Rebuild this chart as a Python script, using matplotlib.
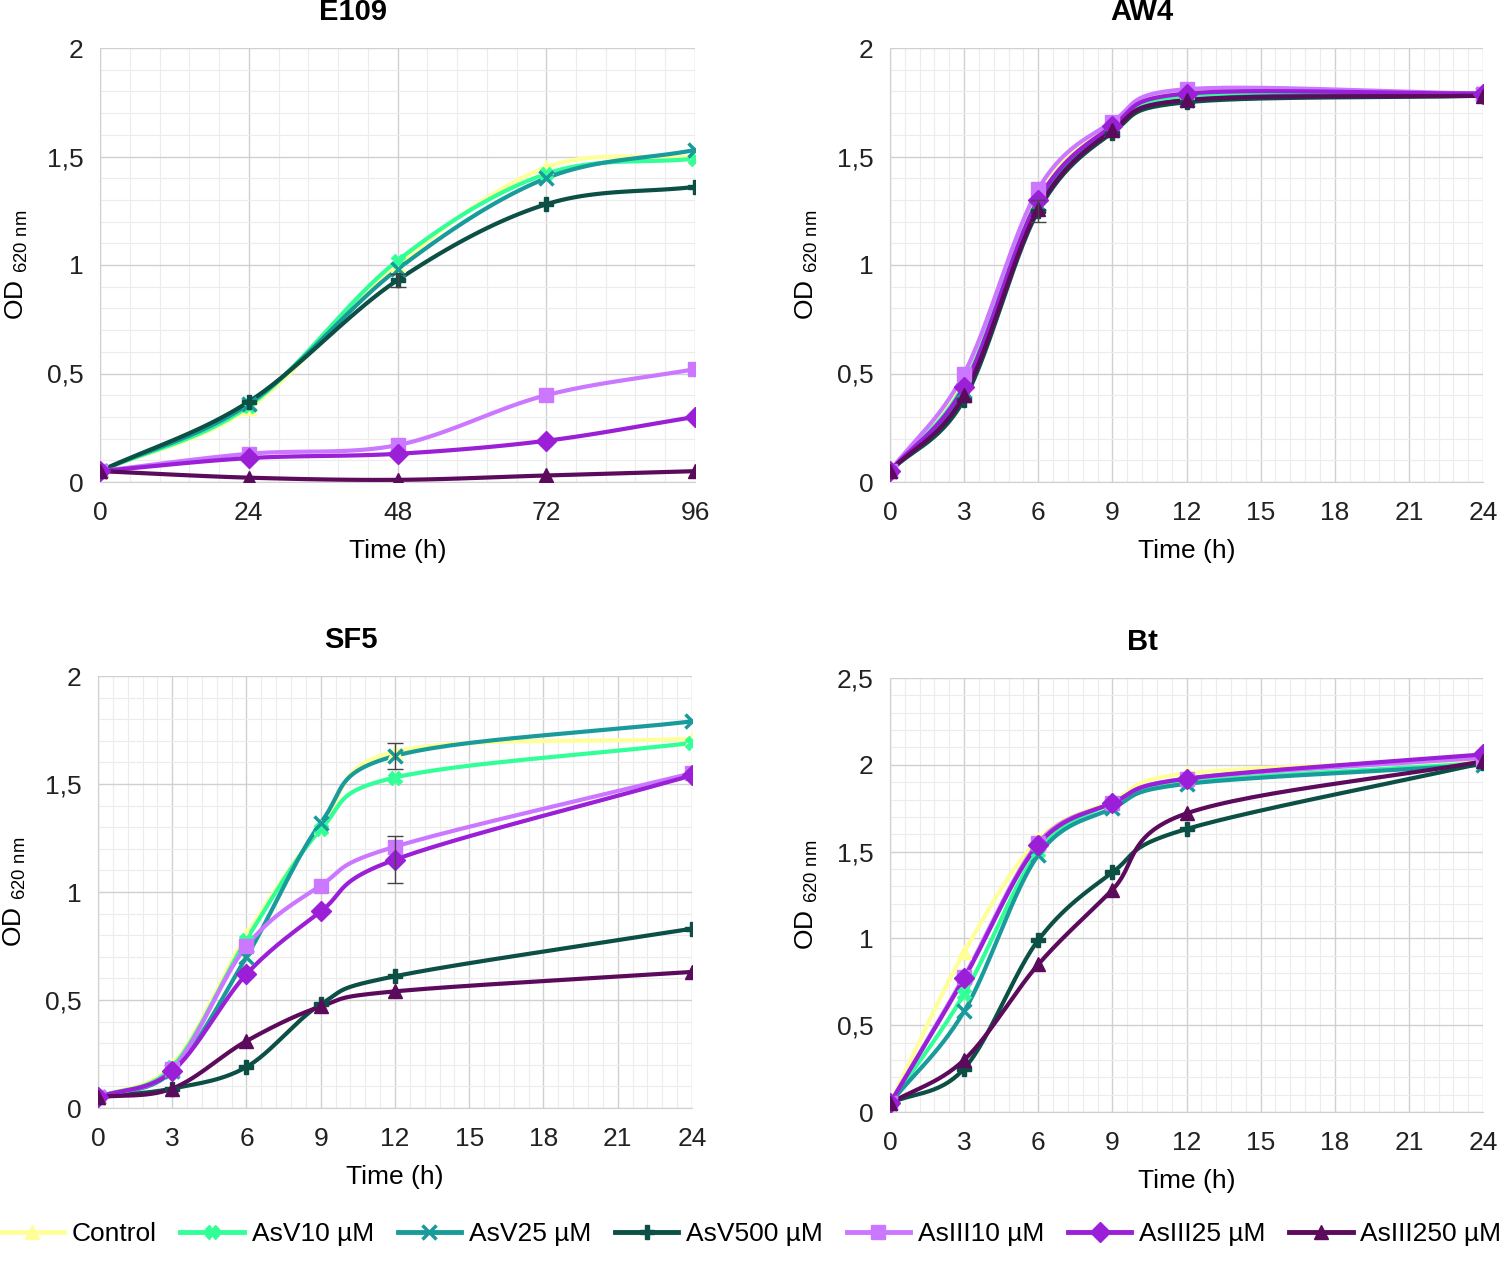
import matplotlib
matplotlib.rcParams["font.family"] = ["Liberation Sans", "DejaVu Sans"]
import matplotlib.pyplot as plt
import numpy as np
from matplotlib.ticker import AutoMinorLocator, FuncFormatter

series = ["Control", "AsV10 µM", "AsV25 µM", "AsV500 µM", "AsIII10 µM", "AsIII25 µM", "AsIII250 µM"]
colors = ["#ffff99", "#33ff99", "#199b9b", "#0b4f45", "#cc77ff", "#9a1fd6", "#5c0a5c"]
markers = ["^", "X", "x", "P", "s", "D", "^"]

x_e109 = [0, 24, 48, 72, 96]
x_24 = [0, 3, 6, 9, 12, 24]

e109 = [
    [0.05, 0.34, 1.00, 1.45, 1.50],
    [0.05, 0.35, 1.02, 1.42, 1.49],
    [0.05, 0.36, 0.98, 1.40, 1.53],
    [0.05, 0.37, 0.93, 1.28, 1.36],
    [0.05, 0.13, 0.17, 0.40, 0.52],
    [0.05, 0.11, 0.13, 0.19, 0.30],
    [0.05, 0.02, 0.01, 0.03, 0.05],
]
aw4 = [
    [0.05, 0.48, 1.33, 1.65, 1.80, 1.79],
    [0.05, 0.45, 1.30, 1.63, 1.78, 1.79],
    [0.05, 0.42, 1.28, 1.62, 1.76, 1.79],
    [0.05, 0.38, 1.25, 1.61, 1.75, 1.78],
    [0.05, 0.50, 1.35, 1.66, 1.81, 1.79],
    [0.05, 0.44, 1.30, 1.64, 1.79, 1.79],
    [0.05, 0.40, 1.26, 1.62, 1.76, 1.78],
]
sf5 = [
    [0.05, 0.20, 0.80, 1.30, 1.65, 1.71],
    [0.05, 0.19, 0.78, 1.29, 1.53, 1.69],
    [0.05, 0.17, 0.70, 1.32, 1.63, 1.79],
    [0.05, 0.09, 0.19, 0.48, 0.61, 0.83],
    [0.05, 0.18, 0.75, 1.03, 1.21, 1.55],
    [0.05, 0.17, 0.62, 0.91, 1.15, 1.54],
    [0.05, 0.09, 0.31, 0.47, 0.54, 0.63],
]
bt = [
    [0.05, 0.92, 1.57, 1.79, 1.95, 2.03],
    [0.05, 0.68, 1.50, 1.78, 1.90, 2.01],
    [0.05, 0.58, 1.48, 1.75, 1.89, 2.00],
    [0.05, 0.25, 0.99, 1.38, 1.63, 2.01],
    [0.05, 0.78, 1.55, 1.78, 1.92, 2.04],
    [0.05, 0.77, 1.54, 1.78, 1.92, 2.06],
    [0.05, 0.30, 0.85, 1.28, 1.72, 2.02],
]
# error bars (series index, x, y, err)
err_e109 = [(3, 48, 0.93, 0.03)]
err_aw4 = [(3, 6, 1.25, 0.05)]
err_sf5 = [(2, 12, 1.63, 0.06), (5, 12, 1.15, 0.11)]
err_bt = []


def smooth(x, y, n=30):
    # Catmull-Rom style rendering, like Excel smoothed lines
    x = np.asarray(x, float); y = np.asarray(y, float)
    px = np.concatenate([[2 * x[0] - x[1]], x, [2 * x[-1] - x[-2]]])
    py = np.concatenate([[2 * y[0] - y[1]], y, [2 * y[-1] - y[-2]]])
    xs, ys = [], []
    t = np.linspace(0, 1, n)
    for i in range(1, len(px) - 2):
        p0, p1, p2, p3 = [np.array([px[j], py[j]]) for j in range(i - 1, i + 3)]
        tt = t[:, None]
        pts = 0.5 * ((2 * p1) + (-p0 + p2) * tt + (2 * p0 - 5 * p1 + 4 * p2 - p3) * tt ** 2
                     + (-p0 + 3 * p1 - 3 * p2 + p3) * tt ** 3)
        xs.extend(pts[:, 0]); ys.extend(pts[:, 1])
    return xs, ys


fig = plt.figure(figsize=(15.02, 12.66), dpi=100)
W, H = 1502, 1266
boxes = [(100, 48, 695, 482), (890, 48, 1483, 482), (98, 676, 692, 1108), (890, 678, 1483, 1112)]
panels = [
    ("E109", x_e109, e109, err_e109, 96, 24, 2.0),
    ("AW4", x_24, aw4, err_aw4, 24, 3, 2.0),
    ("SF5", x_24, sf5, err_sf5, 24, 3, 2.0),
    ("Bt", x_24, bt, err_bt, 24, 3, 2.5),
]
fmt = FuncFormatter(lambda v, p: ("%g" % v).replace(".", ","))
handles = []
for (l, t, r, b), (title, xs, data, errs, xmax, xstep, ymax) in zip(boxes, panels):
    ax = fig.add_axes([l / W, 1 - b / H, (r - l) / W, (b - t) / H])
    for i, ys in enumerate(data):
        sx, sy = smooth(xs, ys)
        ax.plot(sx, sy, color=colors[i], lw=3, zorder=3)
        ax.plot(xs, ys, ls="none", marker=markers[i], color=colors[i], ms=10,
                mew=2.5 if markers[i] == "x" else 1, zorder=4)
        h, = ax.plot([], [], color=colors[i], lw=3.5, marker=markers[i], ms=10,
                     mew=2.5 if markers[i] == "x" else 1)
        if title == "E109":
            handles.append(h)
    for i, ex, ey, ee in errs:
        ax.errorbar([ex], [ey], yerr=[ee], fmt="none", ecolor="#444444", capsize=6, lw=1, zorder=5)
    ax.set_xlim(0, xmax)
    ax.set_ylim(0, ymax)
    ax.set_xticks(np.arange(0, xmax + 1, xstep))
    ax.set_yticks(np.arange(0, ymax + 0.01, 0.5))
    ax.yaxis.set_major_formatter(fmt)
    ax.xaxis.set_minor_locator(AutoMinorLocator(5))
    ax.yaxis.set_minor_locator(AutoMinorLocator(5))
    ax.grid(which="major", color="#d0d0d0", lw=1)
    ax.grid(which="minor", color="#ececec", lw=0.8)
    ax.set_axisbelow(True)
    for s in ["top", "right"]:
        ax.spines[s].set_visible(False)
    for s in ["left", "bottom"]:
        ax.spines[s].set_color("#d0d0d0")
    ax.tick_params(which="both", length=0, labelsize=19, colors="#222222")
    ax.tick_params(axis="x", pad=14)
    ax.tick_params(axis="y", pad=12)
    ax.set_title(title, fontsize=21, fontweight="bold", pad=20, x=0.425)
    ax.set_xlabel("Time (h)", fontsize=19, labelpad=10)
    ax.set_ylabel(r"OD $_{\mathregular{620\ nm}}$", fontsize=19, labelpad=12)

fig.legend(handles, series, loc="lower center", ncol=7, frameon=False, fontsize=19,
           bbox_to_anchor=(0.5, -0.003), handlelength=2.4, columnspacing=0.9, handletextpad=0.3)
fig.savefig("out.png", dpi=100)
